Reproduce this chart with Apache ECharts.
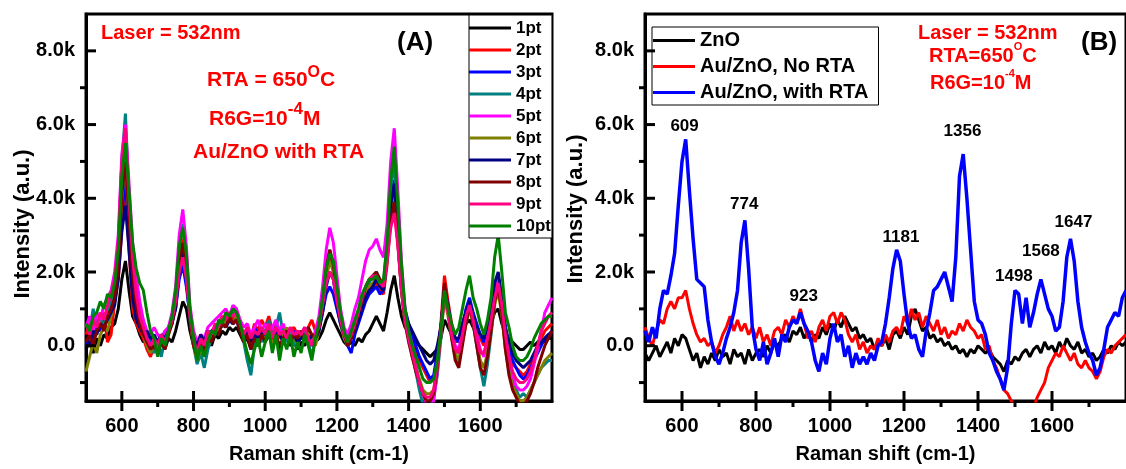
<!DOCTYPE html>
<html>
<head>
<meta charset="utf-8">
<script src="https://cdn.jsdelivr.net/npm/echarts@6/dist/echarts.min.js"></script>
<style>
  html, body { margin: 0; padding: 0; background: #fff; }
  #chart { width: 1126px; height: 469px; }
</style>
</head>
<body>
<div id="chart"></div>
<script>
  // Raman shift grid (cm-1), shared by both panels
  const ramanShift = [
    500, 510, 520, 530, 540, 550, 560, 570, 580, 590,
    600, 610, 620, 630, 640, 650, 660, 670, 680, 690,
    700, 710, 720, 730, 740, 750, 760, 770, 780, 790,
    800, 810, 820, 830, 840, 850, 860, 870, 880, 890,
    900, 910, 920, 930, 940, 950, 960, 970, 980, 990,
    1000, 1010, 1020, 1030, 1040, 1050, 1060, 1070, 1080, 1090,
    1100, 1110, 1120, 1130, 1140, 1150, 1160, 1170, 1180, 1190,
    1200, 1210, 1220, 1230, 1240, 1250, 1260, 1270, 1280, 1290,
    1300, 1310, 1320, 1330, 1340, 1350, 1360, 1370, 1380, 1390,
    1400, 1410, 1420, 1430, 1440, 1450, 1460, 1470, 1480, 1490,
    1500, 1510, 1520, 1530, 1540, 1550, 1560, 1570, 1580, 1590,
    1600, 1610, 1620, 1630, 1640, 1650, 1660, 1670, 1680, 1690,
    1700, 1710, 1720, 1730, 1740, 1750, 1760, 1770, 1780, 1790,
    1800,
  ];

  // panel A: intensity in thousands, one array per measuring point
  const pt1 = [
    -0.1, 0.1, -0.2, 0.2, 0.0, 0.3, 0.2, 0.5, 0.6, 1.0,
    1.8, 2.3, 1.5, 0.8, 0.6, 0.3, 0.1, 0.2, -0.1, 0.0,
    -0.2, 0.1, -0.1, 0.2, 0.1, 0.4, 0.8, 1.2, 1.0, 0.4,
    0.0, -0.2, 0.1, -0.1, 0.2, 0.0, 0.3, 0.2, 0.4, 0.3,
    0.5, 0.4, 0.5, 0.3, 0.1, 0.2, -0.1, 0.1, 0.0, 0.2,
    0.1, 0.3, 0.0, 0.2, -0.1, 0.1, 0.2, 0.0, 0.1, -0.1,
    0.1, 0.0, 0.2, 0.0, 0.1, 0.2, 0.4, 0.7, 0.9, 0.7,
    0.5, 0.3, 0.1, 0.0, 0.1, 0.0, 0.2, 0.1, 0.3, 0.4,
    0.6, 0.8, 0.6, 0.4, 0.9, 1.5, 1.9, 1.3, 0.8, 0.5,
    0.4, 0.3, 0.1, 0.0, -0.1, -0.2, -0.3, -0.2, -0.1, 0.2,
    0.7, 0.5, 0.3, 0.1, 0.2, 0.4, 0.6, 0.7, 0.5, 0.3,
    0.2, 0.2, 0.4, 0.6, 0.9, 1.0, 0.6, 0.3, 0.2, 0.1,
    0.0, -0.1, -0.1, 0.0, 0.1, 0.0, 0.1, 0.2, 0.1, 0.2,
    0.2,
  ];
  const pt2 = [
    0.3, 0.6, 0.2, 0.7, 0.5, 0.9, 0.1, 0.3, 1.2, 1.8,
    3.2, 4.2, 2.6, 1.0, 0.6, 0.4, 0.2, -0.1, -0.3, 0.0,
    -0.2, 0.2, 0.1, 0.4, 0.6, 1.2, 2.2, 2.9, 2.0, 0.9,
    0.2, -0.1, 0.3, 0.0, 0.4, 0.2, 0.5, 0.6, 0.8, 0.7,
    0.9, 0.7, 0.8, 0.6, 0.3, 0.5, 0.2, 0.6, 0.4, 0.7,
    0.5, 0.8, 0.4, 0.6, 0.3, 0.5, 0.2, 0.4, 0.5, 0.3,
    0.4, 0.2, 0.5, 0.7, 0.4, 0.6, 1.2, 2.0, 2.5, 2.1,
    1.4, 0.8, 0.4, 0.2, 0.5, 0.4, 0.7, 1.0, 1.3, 1.5,
    1.6, 1.7, 1.5, 1.4, 2.2, 3.4, 3.9, 2.8, 1.6, 0.8,
    0.5, 0.2, -0.2, -0.4, -0.6, -0.8, -1.0, -0.9, -0.3, 0.6,
    1.9, 1.2, 0.6, 0.2, 0.1, 0.6, 0.9, 1.2, 0.8, 0.5,
    0.2, 0.0, 0.4, 0.8, 1.4, 1.6, 1.0, 0.3, -0.2, -0.5,
    -0.6, -0.7, -0.8, -0.7, -0.5, -0.3, -0.1, 0.2, 0.4, 0.5,
    0.6,
  ];
  const pt3 = [
    0.0, 0.3, 0.1, 0.5, 0.4, 0.7, 0.8, 1.0, 1.4, 2.2,
    3.6, 4.5, 3.0, 1.5, 0.8, 0.6, 0.4, 0.3, 0.1, 0.2,
    0.0, 0.3, 0.2, 0.5, 0.7, 1.0, 1.8, 2.2, 1.6, 0.8,
    0.3, 0.1, 0.2, 0.0, 0.3, 0.4, 0.5, 0.6, 0.7, 0.5,
    0.7, 0.6, 0.7, 0.5, 0.3, 0.4, 0.2, 0.5, 0.3, 0.4,
    0.2, 0.5, 0.3, 0.4, 0.2, 0.4, 0.3, 0.2, 0.4, 0.1,
    0.3, 0.2, 0.4, 0.1, 0.3, 0.5, 0.9, 1.4, 1.6, 1.4,
    1.0, 0.6, 0.2, 0.0, -0.2, 0.3, 0.6, 0.9, 1.2, 1.4,
    1.5, 1.6, 1.4, 1.5, 2.4, 3.8, 4.5, 3.2, 1.8, 1.0,
    0.6, 0.3, 0.0, -0.3, -0.5, -0.7, -0.9, -0.8, -0.2, 0.5,
    1.6, 1.1, 0.5, 0.2, 0.1, 0.5, 1.0, 1.3, 0.9, 0.6,
    0.3, 0.1, 0.5, 0.9, 1.6, 1.9, 1.2, 0.5, 0.0, -0.4,
    -0.6, -0.8, -0.9, -0.8, -0.6, -0.4, -0.2, 0.0, 0.2, 0.3,
    0.4,
  ];
  const pt4 = [
    0.6, 0.4, 1.0, 0.6, 0.8, 0.5, 0.9, 1.2, 1.6, 2.6,
    5.0, 6.3, 4.0, 2.3, 1.4, 0.9, 0.6, 0.3, 0.0, -0.2,
    0.1, -0.3, 0.2, 0.4, 0.8, 1.4, 2.6, 3.3, 2.4, 0.9,
    0.0, -0.5, -0.2, -0.6, -0.1, 0.2, 0.3, 0.6, 0.5, 0.8,
    0.7, 0.9, 0.8, 0.5, 0.1, -0.4, -0.8, 0.0, 0.3, 0.1,
    0.4, 0.7, 0.2, 0.5, 0.9, 0.3, 0.1, 0.4, 0.0, 0.3,
    0.2, 0.5, 0.1, -0.3, 0.2, 0.6, 1.3, 2.1, 2.6, 2.2,
    1.5, 0.7, 0.3, 0.1, 0.3, 0.6, 0.9, 1.2, 1.5, 1.7,
    1.9, 2.0, 1.8, 1.7, 2.8, 4.2, 5.0, 3.6, 2.0, 0.9,
    0.3, -0.2, -0.7, -1.2, -1.6, -1.7, -1.6, -1.4, -0.8, 0.2,
    1.5, 0.9, 0.3, -0.3, -0.5, 0.2, 0.8, 1.2, 0.6, 0.0,
    -0.6, -1.1, -0.5, 0.3, 1.2, 1.7, 1.0, 0.0, -0.6, -1.0,
    -1.2, -1.4, -1.3, -1.4, -1.2, -1.0, -0.8, -0.6, -0.5, -0.4,
    -0.4,
  ];
  const pt5 = [
    0.5, 0.8, 0.4, 0.9, 0.7, 1.1, 1.3, 1.5, 2.0, 3.0,
    5.2, 6.0, 4.4, 2.8, 1.9, 1.2, 0.7, 0.4, 0.3, 0.5,
    0.3, 0.2, 0.4, 0.5, 0.9, 1.6, 3.0, 3.7, 2.7, 1.1,
    0.4, 0.1, 0.3, 0.2, 0.5, 0.6, 0.7, 0.8, 0.9, 1.0,
    0.8, 1.1, 1.0, 0.7, 0.5, 0.6, 0.3, 0.5, 0.7, 0.4,
    0.6, 0.3, 0.5, 0.7, 0.4, 0.6, 0.3, 0.5, 0.2, 0.4,
    0.3, 0.5, 0.2, 0.1, 0.4, 0.8, 1.6, 2.6, 3.2, 2.8,
    1.9, 1.0, 0.5, 0.3, 0.6, 1.0, 1.3, 1.8, 2.3, 2.6,
    2.7, 2.9, 2.6, 2.4, 3.3, 5.0, 5.9, 4.2, 2.3, 1.0,
    0.4, 0.0, -0.5, -1.0, -1.3, -1.6, -1.7, -1.5, -0.7, 0.3,
    1.4, 1.0, 0.4, 0.0, -0.1, 0.4, 0.8, 1.1, 0.7, 0.3,
    -0.1, -0.3, 0.2, 0.7, 1.4, 1.8, 1.2, 0.4, -0.3, -0.8,
    -1.1, -1.2, -1.2, -1.1, -0.9, -0.5, -0.1, 0.4, 0.9, 1.1,
    1.3,
  ];
  const pt6 = [
    -0.7, -0.3, 0.1, -0.2, 0.3, 0.5, 0.4, 0.8, 1.2, 2.0,
    4.0, 5.0, 3.4, 1.8, 1.1, 0.6, 0.3, 0.0, -0.2, 0.1,
    -0.1, 0.2, 0.0, 0.3, 0.6, 1.1, 2.1, 2.8, 2.0, 0.7,
    0.0, -0.4, -0.1, 0.1, 0.3, 0.2, 0.5, 0.4, 0.7, 0.6,
    0.8, 0.6, 0.8, 0.4, 0.2, 0.3, 0.0, 0.3, 0.1, 0.4,
    0.2, 0.5, 0.0, 0.4, 0.2, 0.3, 0.5, 0.1, 0.3, 0.0,
    0.3, 0.1, 0.4, 0.2, 0.0, 0.4, 1.0, 1.8, 2.3, 2.0,
    1.3, 0.6, 0.2, 0.0, 0.2, 0.5, 0.8, 1.1, 1.4, 1.6,
    1.7, 1.8, 1.6, 1.5, 2.3, 3.4, 4.0, 2.9, 1.5, 0.6,
    0.2, -0.3, -0.6, -0.9, -1.2, -1.3, -1.3, -1.2, -0.6, 0.3,
    1.3, 0.8, 0.2, -0.2, -0.4, 0.1, 0.6, 1.0, 0.6, 0.1,
    -0.4, -0.6, -0.2, 0.4, 1.1, 1.5, 0.8, -0.1, -0.7, -1.1,
    -1.3, -1.5, -1.5, -1.4, -1.2, -1.0, -0.8, -0.6, -0.4, -0.3,
    -0.2,
  ];
  const pt7 = [
    0.2, 0.0, 0.4, 0.3, 0.6, 0.5, 0.7, 0.9, 1.1, 1.8,
    3.1, 3.8, 2.6, 1.3, 0.7, 0.5, 0.3, 0.4, 0.2, 0.3,
    0.1, 0.3, 0.2, 0.4, 0.6, 1.0, 2.0, 2.5, 1.8, 0.7,
    0.2, 0.0, 0.3, 0.1, 0.4, 0.3, 0.5, 0.6, 0.6, 0.5,
    0.7, 0.6, 0.7, 0.4, 0.3, 0.4, 0.1, 0.3, 0.2, 0.4,
    0.3, 0.5, 0.2, 0.4, 0.3, 0.1, 0.4, 0.2, 0.3, 0.1,
    0.2, 0.3, 0.1, 0.3, 0.2, 0.4, 0.9, 1.6, 2.0, 1.8,
    1.1, 0.6, 0.3, 0.1, 0.2, 0.4, 0.7, 1.0, 1.3, 1.5,
    1.6, 1.8, 1.6, 1.5, 2.4, 3.8, 4.4, 3.1, 1.7, 0.9,
    0.6, 0.4, 0.2, 0.0, -0.2, -0.4, -0.5, -0.4, 0.0, 0.5,
    1.5, 1.0, 0.5, 0.2, 0.2, 0.6, 0.9, 1.2, 0.8, 0.5,
    0.3, 0.2, 0.5, 1.0, 1.7, 2.0, 1.3, 0.5, 0.1, -0.2,
    -0.4, -0.5, -0.6, -0.5, -0.4, -0.2, 0.0, 0.1, 0.2, 0.3,
    0.3,
  ];
  const pt8 = [
    0.1, 0.3, 0.0, 0.4, 0.6, 0.4, 0.8, 1.0, 1.3, 2.1,
    4.1, 5.0, 3.5, 1.9, 1.1, 0.6, 0.3, 0.1, -0.1, 0.0,
    -0.2, 0.1, -0.1, 0.3, 0.6, 1.2, 2.2, 2.8, 2.1, 0.8,
    0.0, -0.3, 0.1, -0.2, 0.2, 0.1, 0.4, 0.3, 0.6, 0.5,
    0.8, 0.6, 0.7, 0.4, 0.1, 0.3, -0.1, 0.2, 0.0, 0.3,
    0.1, 0.4, 0.2, 0.3, 0.0, 0.2, 0.4, 0.1, 0.3, 0.2,
    0.4, 0.2, 0.5, 0.3, 0.2, 0.5, 1.2, 2.1, 2.6, 2.2,
    1.4, 0.7, 0.3, 0.0, 0.2, 0.5, 0.9, 1.2, 1.6, 1.8,
    1.9, 2.0, 1.8, 1.6, 2.4, 3.4, 3.9, 2.8, 1.5, 0.6,
    0.1, -0.3, -0.7, -1.0, -1.3, -1.5, -1.5, -1.3, -0.6, 0.4,
    1.7, 1.0, 0.2, -0.4, -0.6, 0.0, 0.6, 1.1, 0.6, 0.0,
    -0.6, -0.8, -0.3, 0.4, 1.2, 1.6, 0.9, -0.1, -0.8, -1.2,
    -1.4, -1.6, -1.6, -1.5, -1.3, -1.0, -0.6, -0.3, 0.0, 0.2,
    0.4,
  ];
  const pt9 = [
    0.6, 0.3, 0.7, 0.5, 0.9, 0.7, 1.1, 1.4, 1.8, 2.8,
    5.0, 5.9, 4.0, 2.4, 1.4, 0.8, 0.5, 0.2, 0.0, 0.2,
    0.0, 0.3, 0.1, 0.4, 0.7, 1.2, 2.0, 2.4, 1.8, 0.8,
    0.2, -0.2, 0.2, 0.0, 0.4, 0.3, 0.6, 0.5, 0.8, 0.7,
    0.9, 0.8, 0.9, 0.6, 0.3, 0.5, 0.2, 0.4, 0.3, 0.5,
    0.3, 0.6, 0.2, 0.5, 0.3, 0.4, 0.2, 0.5, 0.3, 0.4,
    0.3, 0.5, 0.2, 0.0, 0.3, 0.5, 1.1, 1.7, 2.0, 1.8,
    1.2, 0.7, 0.3, 0.1, 0.3, 0.6, 0.9, 1.3, 1.6, 1.8,
    1.9, 1.9, 1.7, 1.6, 2.3, 3.2, 3.6, 2.7, 1.5, 0.7,
    0.2, -0.2, -0.6, -1.0, -1.3, -1.4, -1.4, -1.2, -0.5, 0.4,
    1.4, 0.9, 0.3, -0.1, -0.2, 0.3, 0.8, 1.1, 0.7, 0.2,
    -0.2, -0.2, 0.2, 0.7, 1.3, 1.7, 1.1, 0.3, -0.3, -0.7,
    -0.9, -1.0, -1.0, -0.9, -0.7, -0.4, 0.0, 0.4, 0.6, 0.8,
    0.9,
  ];
  const pt10 = [
    0.6, 0.4, 0.8, 0.9, 1.2, 1.0, 1.4, 1.3, 1.7, 2.6,
    4.6, 5.5, 4.2, 2.8, 2.1, 1.7, 1.5, 0.9, 0.4, 0.2,
    -0.3, 0.2, 0.0, 0.4, 0.8, 1.5, 2.7, 3.2, 2.5, 1.0,
    0.2, -0.4, 0.0, -0.3, 0.1, 0.4, 0.3, 0.7, 0.6, 0.9,
    0.8, 1.0, 0.9, 0.6, 0.2, -0.2, -0.5, -0.1, 0.2, -0.3,
    0.1, 0.4, -0.2, 0.3, -0.4, 0.2, -0.1, 0.3, -0.3, 0.1,
    -0.2, 0.3, 0.0, -0.4, 0.2, 0.6, 1.3, 2.1, 2.5, 2.3,
    1.6, 0.9, 0.4, 0.1, 0.4, 0.7, 1.0, 1.4, 1.6, 1.8,
    1.8, 1.9, 1.7, 1.8, 2.8, 4.5, 5.4, 3.8, 2.2, 1.0,
    0.4, 0.0, -0.3, -0.6, -0.9, -1.0, -1.0, -0.9, -0.4, 0.4,
    1.5, 1.0, 0.6, 0.3, 0.5, 1.0, 1.5, 1.9, 1.3, 1.0,
    0.6, 0.3, 0.7, 1.3, 2.4, 3.0, 2.0, 0.9, 0.5, 0.0,
    -0.3, -0.4, -0.4, -0.3, -0.1, 0.2, 0.4, 0.6, 0.7, 0.8,
    0.8,
  ];
  const pointNames = ['1pt', '2pt', '3pt', '4pt', '5pt', '6pt', '7pt', '8pt', '9pt', '10pt'];
  const pointColors = ['#000000', '#ff0000', '#0000ff', '#008080', '#ff00ff',
    '#808000', '#000080', '#800000', '#ff0080', '#008000'];
  const pointData = [pt1, pt2, pt3, pt4, pt5, pt6, pt7, pt8, pt9, pt10];

  // panel B: intensity in thousands
  const zno = [
    -0.2, -0.4, -0.2, 0.0, -0.3, -0.1, 0.1, -0.2, 0.2, 0.0,
    0.3, 0.2, -0.1, -0.4, -0.2, -0.6, -0.3, -0.5, -0.2, -0.4,
    -0.1, -0.3, -0.2, -0.5, -0.1, -0.3, -0.2, -0.5, -0.1, -0.4,
    -0.2, -0.1, -0.3, 0.0, -0.2, 0.1, 0.0, 0.2, 0.3, 0.1,
    0.4, 0.3, 0.5, 0.2, 0.4, 0.1, 0.3, 0.2, 0.5, 0.3,
    0.6, 0.4, 0.7, 0.5, 0.8, 0.6, 0.4, 0.5, 0.2, 0.3,
    0.1, 0.2, -0.1, 0.1, 0.0, 0.2, -0.1, 0.3, 0.4, 0.2,
    0.5, 0.3, 0.8, 1.0, 0.7, 0.4, 0.5, 0.2, 0.3, 0.1,
    0.2, 0.0, 0.1, -0.1, 0.0, -0.2, -0.1, -0.3, -0.1, -0.2,
    0.0, -0.1, -0.2, -0.1, -0.3, -0.4, -0.5, -0.7, -0.4, -0.5,
    -0.3, -0.4, -0.2, -0.1, -0.3, -0.1, 0.0, -0.2, 0.1, -0.1,
    0.0, -0.2, 0.1, -0.1, 0.2, 0.0, -0.1, 0.1, -0.2, -0.1,
    -0.3, -0.2, -0.4, -0.3, -0.1, -0.2, 0.0, -0.1, 0.1, 0.0,
    0.1,
  ];
  const auZnoNoRta = [
    0.5, 0.2, 0.0, 0.4, 0.7, 0.6, 1.0, 1.2, 1.0, 1.3,
    1.3, 1.5, 1.0, 0.6, 0.3, 0.1, 0.2, 0.0, 0.1, -0.2,
    0.0, 0.3, 0.5, 0.8, 0.4, 0.7, 0.4, 0.6, 0.3, 0.5,
    0.2, 0.5, 0.1, 0.3, 0.0, 0.4, 0.5, 0.3, 0.7, 0.5,
    0.8, 0.6, 1.0, 0.6, 0.2, 0.4, 0.1, 0.5, 0.7, 0.4,
    0.8, 0.9, 0.6, 0.9, 0.7, 0.3, 0.1, 0.3, -0.1, 0.1,
    -0.2, 0.0, -0.1, 0.2, 0.0, 0.3, 0.1, 0.4, 0.5, 0.3,
    0.8, 0.6, 1.0, 0.7, 0.9, 0.5, 0.8, 0.6, 0.4, 0.7,
    0.3, 0.5, 0.2, 0.4, 0.3, 0.6, 0.4, 0.7, 0.5, 0.4,
    0.2, 0.3, -0.1, 0.0, -0.4, -0.6, -0.9, -1.2, -1.3, -1.5,
    -1.6, -1.8, -1.9, -1.9, -1.8, -1.7, -1.4, -1.2, -1.0, -0.6,
    -0.4, -0.2, -0.3, 0.0, -0.2, -0.4, -0.2, -0.5, -0.6, -0.4,
    -0.6, -0.7, -0.9, -0.7, -0.3, -0.1, -0.2, 0.0, 0.1, 0.2,
    0.3,
  ];
  const auZnoRta = [
    0.4, 0.1, 0.5, 0.2, 1.0, 1.5, 1.4, 1.9, 2.5, 3.8,
    5.0, 5.6, 4.2, 2.9, 1.8, 1.7, 1.6, 0.7, 0.1, -0.3,
    -0.5, -0.2, 0.2, 0.5, 0.9, 1.5, 2.8, 3.4, 2.1, 0.5,
    -0.1, -0.4, 0.1, -0.5, -0.2, 0.2, -0.3, 0.3, 0.1, 0.5,
    0.7, 0.6, 0.9, 0.6, 0.4, 0.1, -0.4, -0.7, -0.2, -0.5,
    0.2, 0.6, 0.1, 0.3, -0.3, 0.0, -0.6, -0.2, -0.5, -0.3,
    -0.5, -0.2, -0.4, 0.0, 0.1, 0.6, 1.3, 2.1, 2.6, 2.3,
    1.4, 0.6, 0.2, 0.3, -0.1, -0.3, 0.4, 0.9, 1.5, 1.6,
    1.8, 2.0, 1.6, 1.2, 2.4, 4.6, 5.2, 4.0, 2.6, 1.2,
    0.7, 0.6, 0.3, -0.2, -0.4, -0.7, -0.9, -1.2, -0.6, 0.6,
    1.5, 1.4, 0.6, 1.3, 0.5, 0.9, 1.4, 1.8, 1.4, 1.0,
    0.8, 0.4, 0.5, 1.2, 2.4, 2.9, 2.3, 1.2, 0.5, 0.1,
    -0.2, -0.4, -0.8, -0.6, -0.1, 0.5, 0.7, 0.9, 0.8, 1.3,
    1.5,
  ];
  const sampleNames = ['ZnO', 'Au/ZnO, No RTA', 'Au/ZnO, with RTA'];
  const sampleColors = ['#000000', '#ff0000', '#0000ff'];
  const sampleData = [zno, auZnoNoRta, auZnoRta];

  // peak annotations of panel B
  const peakText = [609, 774, 923, 1181, 1356, 1498, 1568, 1647];
  const peakLabelX = [607, 768, 929, 1192, 1358, 1497, 1570, 1658];
  const peakLabelY = [5.96, 3.83, 1.35, 2.94, 5.83, 1.89, 2.56, 3.35];

  const xMajor = [600, 800, 1000, 1200, 1400, 1600];
  const xMinor = [700, 900, 1100, 1300, 1500, 1700];
  const yMajor = [0, 2, 4, 6, 8];
  const yMinor = [-1, 1, 3, 5, 7];
  const X_MIN = 500;
  const X_MAX = 1800;
  const Y_MIN = -1.5;
  const Y_MAX = 9;

  const FONT = '"Liberation Sans", Arial, sans-serif';

  function xAxis(gridIndex) {
    return {
      type: 'value',
      gridIndex,
      min: X_MIN,
      max: X_MAX,
      position: 'bottom',
      splitLine: { show: false },
      name: 'Raman shift (cm-1)',
      nameLocation: 'middle',
      nameGap: 43,
      nameTextStyle: { fontFamily: FONT, fontWeight: 'bold', fontSize: 20, color: '#000' },
      axisLine: { onZero: false, lineStyle: { color: '#000', width: 3 } },
      axisTick: { show: false },
      axisLabel: {
        customValues: xMajor, margin: 15,
        formatter: (v) => String(v),
        fontFamily: FONT, fontWeight: 'bold', fontSize: 20, color: '#000',
      },
    };
  }

  function yAxis(gridIndex) {
    return {
      type: 'value',
      gridIndex,
      min: Y_MIN,
      max: Y_MAX,
      position: 'left',
      splitLine: { show: false },
      axisLine: { onZero: false, lineStyle: { color: '#000', width: 3 } },
      axisTick: { show: false },
      axisLabel: {
        customValues: yMajor, margin: 11,
        formatter: (v) => (v === 0 ? '0.0' : v.toFixed(1) + 'k'),
        fontFamily: FONT, fontWeight: 'bold', fontSize: 20, color: '#000',
      },
    };
  }

  const series = [];
  pointData.forEach((vals, i) => {
    series.push({
      name: pointNames[i],
      type: 'line',
      xAxisIndex: 0,
      yAxisIndex: 0,
      symbol: 'none',
      data: ramanShift.map((x, j) => [x, vals[j]]),
      lineStyle: { width: 3, color: pointColors[i] },
      itemStyle: { color: pointColors[i] },
    });
  });
  sampleData.forEach((vals, i) => {
    series.push({
      name: sampleNames[i],
      type: 'line',
      xAxisIndex: 1,
      yAxisIndex: 1,
      symbol: 'none',
      data: ramanShift.map((x, j) => [x, vals[j]]),
      lineStyle: { width: i === 2 ? 3.5 : 3, color: sampleColors[i] },
      itemStyle: { color: sampleColors[i] },
    });
  });
  series.push({
    type: 'scatter',
    xAxisIndex: 1,
    yAxisIndex: 1,
    symbolSize: 0,
    silent: true,
    itemStyle: { opacity: 1, color: '#000' },
    data: peakText.map((p, i) => ({ name: String(p), value: [peakLabelX[i], peakLabelY[i]] })),
    label: {
      show: true,
      position: 'inside',
      formatter: (p) => p.name,
      fontFamily: FONT, fontWeight: 'bold', fontSize: 17, color: '#000', opacity: 1,
    },
  });

  const red = '#ff0000';
  function txt(x, y, text, size, color, extra) {
    return {
      type: 'text', x, y, silent: true,
      style: Object.assign({
        text, fill: color, fontFamily: FONT, fontWeight: 'bold', fontSize: size,
        textAlign: 'left', textVerticalAlign: 'middle',
      }, extra || {}),
    };
  }
  // text with superscript tokens: {s|..} raised via rich verticalAlign
  function supText(x, y, text, size, supSize, lineH, color) {
    return txt(x, y, text, size, color, {
      lineHeight: lineH,
      rich: {
        m: { fontFamily: FONT, fontWeight: 'bold', fontSize: size, lineHeight: lineH, fill: color },
        s: { fontFamily: FONT, fontWeight: 'bold', fontSize: supSize, lineHeight: supSize, fill: color, verticalAlign: 'top' },
      },
    });
  }

  const graphic = [
    // panel A notes
    txt(101, 33, 'Laser = 532nm', 20, red),
    supText(207, 80, '{m|RTA = 650}{s|O}{m|C}', 21, 16, 30, red),
    supText(209, 119, '{m|R6G=10}{s|-4}{m|M}', 21, 17, 36, red),
    txt(193, 152, 'Au/ZnO with RTA', 21, red),
    txt(397, 43, '(A)', 26, '#000'),
    // panel B notes
    txt(918, 33, 'Laser = 532nm', 20, red),
    supText(929, 56, '{m|RTA=650}{s|O}{m|C}', 20, 11, 30, red),
    supText(930, 83, '{m|R6G=10}{s|-4}{m|M}', 20, 11, 30, red),
    txt(1081, 43, '(B)', 26, '#000'),
    // y axis titles
    Object.assign(txt(23, 224, 'Intensity (a.u.)', 22, '#000', { textAlign: 'center' }), { rotation: Math.PI / 2 }),
    Object.assign(txt(576, 209, 'Intensity (a.u.)', 22, '#000', { textAlign: 'center' }), { rotation: Math.PI / 2 }),
  ];

  const chart = echarts.init(document.getElementById('chart'), null, { renderer: 'canvas' });
  chart.setOption({
    animation: false,
    backgroundColor: '#fff',
    grid: [
      { left: 86, top: 14, width: 466, height: 389, show: true, borderColor: '#000', borderWidth: 3 },
      { left: 645, top: 14, width: 485, height: 389, show: true, borderColor: '#000', borderWidth: 3 },
    ],
    xAxis: [xAxis(0), xAxis(1)],
    yAxis: [yAxis(0), yAxis(1)],
    legend: [
      {
        data: pointNames,
        orient: 'vertical',
        left: 469,
        top: 15,
        padding: [4, 1, 3, 0],
        itemGap: 4,
        itemWidth: 42,
        itemHeight: 3,
        icon: 'rect',
        selectedMode: false,
        backgroundColor: '#fff',
        borderColor: '#000',
        borderWidth: 1,
        borderRadius: 0,
        textStyle: { fontFamily: FONT, fontWeight: 'bold', fontSize: 17, lineHeight: 18, color: '#000' },
      },
      {
        data: sampleNames,
        orient: 'vertical',
        left: 652,
        top: 27,
        padding: [3, 10, 2, 1],
        itemGap: 5,
        itemWidth: 42,
        itemHeight: 3,
        icon: 'rect',
        selectedMode: false,
        backgroundColor: '#fff',
        borderColor: '#000',
        borderWidth: 1,
        borderRadius: 0,
        textStyle: { fontFamily: FONT, fontWeight: 'bold', fontSize: 20, lineHeight: 21, color: '#000' },
      },
    ],
    graphic,
    series,
  });

  // tick marks placed through the axes' own scales:
  // major ticks cross the x axis and point inward on y, minor ticks point outward
  const ticks = [];
  function tickLine(x1, y1, x2, y2) {
    ticks.push({
      type: 'line', silent: true, z: 100,
      shape: { x1, y1, x2, y2 },
      style: { stroke: '#000', lineWidth: 3 },
    });
  }
  [0, 1].forEach((gi) => {
    const finder = { xAxisIndex: gi, yAxisIndex: gi };
    xMajor.forEach((v) => {
      const p = chart.convertToPixel(finder, [v, Y_MIN]);
      tickLine(p[0], p[1] - 10, p[0], p[1] + 10);
    });
    xMinor.forEach((v) => {
      const p = chart.convertToPixel(finder, [v, Y_MIN]);
      tickLine(p[0], p[1], p[0], p[1] + 6);
    });
    yMajor.forEach((v) => {
      const p = chart.convertToPixel(finder, [X_MIN, v]);
      tickLine(p[0], p[1], p[0] + 10, p[1]);
    });
    yMinor.forEach((v) => {
      const p = chart.convertToPixel(finder, [X_MIN, v]);
      tickLine(p[0] - 6, p[1], p[0], p[1]);
    });
  });
  chart.setOption({ graphic: graphic.concat(ticks) });
</script>
</body>
</html>
